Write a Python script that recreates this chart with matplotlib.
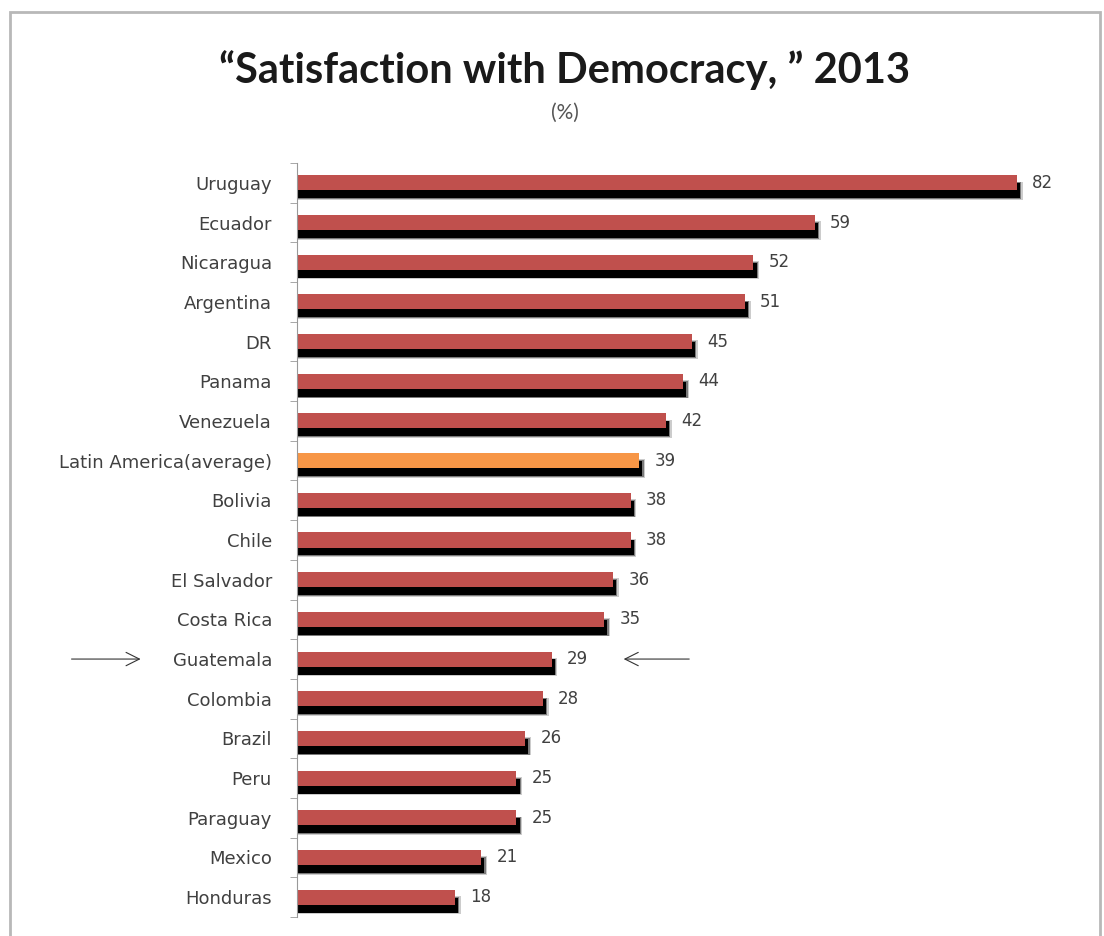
import matplotlib.pyplot as plt
from matplotlib.patches import Rectangle

countries = [
    "Uruguay", "Ecuador", "Nicaragua", "Argentina", "DR", "Panama",
    "Venezuela", "Latin America(average)", "Bolivia", "Chile",
    "El Salvador", "Costa Rica", "Guatemala", "Colombia", "Brazil",
    "Peru", "Paraguay", "Mexico", "Honduras",
]
satisfaction = [82, 59, 52, 51, 45, 44, 42, 39, 38, 38, 36, 35, 29, 28, 26, 25, 25, 21, 18]
highlight = "Latin America(average)"
marked = "Guatemala"

RED = "#c0504d"
ORANGE = "#f79646"
TEXT = "#404040"

W, H = 1104, 936
plt.rcParams["font.family"] = ["DejaVu Sans"]

fig = plt.figure(figsize=(W / 100, H / 100), dpi=100)
fig.patches.append(Rectangle((10 / W, -0.01), 1090 / W, (H - 12) / H + 0.01,
                             transform=fig.transFigure, fill=False,
                             edgecolor="#b8b8b8", linewidth=2))

# plot area in pixels: y axis at x=297, rows from y=163 to y=917
ax = fig.add_axes([297 / W, (H - 917) / H, 790 / W, (917 - 163) / H])
ax.set_xlim(0, 90)
ax.set_ylim(len(countries) - 0.5, -0.5)

ys = list(range(len(countries)))
colors = [ORANGE if c == highlight else RED for c in countries]

# soft drop shadow: a few stacked translucent black bars
for grow, alpha in [(0.08, 0.2), (0.04, 0.4), (0.0, 1.0)]:
    ax.barh([y + 0.2 for y in ys], [v + 0.2 + grow * 4 for v in satisfaction],
            height=0.38 + grow, left=0.15, color="black", alpha=alpha,
            linewidth=0, zorder=1)
ax.barh(ys, satisfaction, height=0.38, color=colors, linewidth=0, zorder=2)

for y, v in zip(ys, satisfaction):
    ax.annotate(str(v), (v, y), xytext=(11, 0), textcoords="offset points",
                va="center", ha="left", fontsize=12, color=TEXT)

ax.set_yticks(ys)
ax.set_yticklabels(countries, fontsize=13, color=TEXT)
ax.set_yticks([y + 0.5 for y in range(-1, len(countries))], minor=True)
ax.tick_params(axis="y", which="major", length=0, pad=18)
ax.tick_params(axis="y", which="minor", length=5, color="#999999")
ax.set_xticks([])
for side in ("top", "right", "bottom"):
    ax.spines[side].set_visible(False)
ax.spines["left"].set_color("#999999")

fig.text(565 / W, 1 - 70 / H, "\u201cSatisfaction with Democracy, \u201d 2013",
         ha="center", va="center", fontsize=30, fontweight="bold",
         color="#1a1a1a", family=["Lato", "DejaVu Sans"])
fig.text(565 / W, 1 - 113 / H, "(%)", ha="center", va="center",
         fontsize=15, color="#555555", family=["Lato", "DejaVu Sans"])

# arrows pointing at the marked row
gy = ys[countries.index(marked)]
ax.annotate("", xy=(-17.5, gy), xytext=(-26, gy), annotation_clip=False,
            arrowprops=dict(arrowstyle="->", color="#333333", lw=0.8,
                            mutation_scale=24))
ax.annotate("", xy=(36.9, gy), xytext=(45, gy), annotation_clip=False,
            arrowprops=dict(arrowstyle="->", color="#333333", lw=0.8,
                            mutation_scale=24))

fig.savefig("out.png", dpi=100, facecolor="white")
